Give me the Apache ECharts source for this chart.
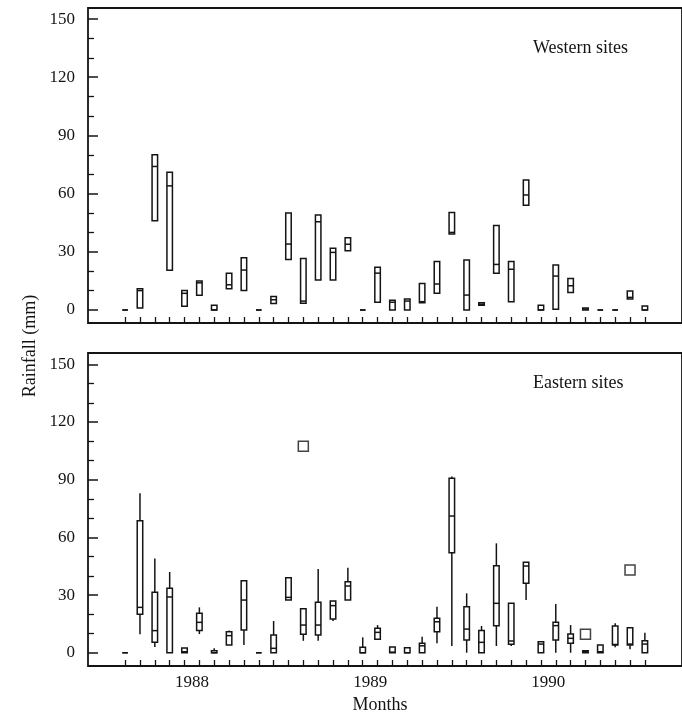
<!DOCTYPE html>
<html>
<head>
<meta charset="utf-8">
<script src="https://cdn.jsdelivr.net/npm/echarts@6/dist/echarts.min.js"></script>
<style>
  html, body { margin: 0; padding: 0; background: #fff; }
  #chart { width: 682px; height: 717px; }
</style>
</head>
<body>
<div id="chart"></div>
<script>
// month index 0..35, boxes are [min, Q1, median, Q3, max] in mm
const westBoxes = [
  [0, 0, 0, 0, 0], [1, 1, 10, 11, 11], [46, 46, 74, 80, 80], [20.5, 20.5, 64, 71, 71],
  [2, 2, 8.6, 10, 10], [7.6, 7.6, 14, 15, 15], [0, 0, 0, 2.5, 2.5], [11, 11, 13, 19, 19],
  [10, 10, 20.6, 27, 27], [0, 0, 0, 0, 0], [3.4, 3.4, 5.3, 7, 7], [26, 26, 34, 50, 50],
  [3.5, 3.5, 4.6, 26.5, 26.5], [15.5, 15.5, 45.5, 49, 49], [15.5, 15.5, 29.7, 31.8, 31.8], [30.6, 30.6, 33.9, 37.3, 37.3],
  [0, 0, 0, 0, 0], [4, 4, 19, 22, 22], [0, 0, 4, 5, 5], [0, 0, 4.6, 5.7, 5.7],
  [3.8, 3.8, 4.3, 13.7, 13.7], [8.6, 8.6, 13.4, 25, 25], [39.2, 39.2, 40, 50.3, 50.3], [0, 0, 7.7, 25.8, 25.8],
  [2.4, 2.4, 3, 3.8, 3.8], [19, 19, 23.5, 43.6, 43.6], [4.3, 4.3, 21, 25, 25], [54, 54, 59.3, 67, 67],
  [0, 0, 0, 2.4, 2.4], [0.4, 0.4, 17.5, 23.2, 23.2], [9, 9, 12.5, 16.3, 16.3], [0, 0, 0.5, 1, 1],
  [0, 0, 0, 0, 0], [0, 0, 0, 0, 0], [5.7, 5.7, 6.5, 9.8, 9.8], [0, 0, 0, 2.1, 2.1]
];

const eastBoxes = [
  [0, 0, 0, 0, 0], [9.6, 20, 23.6, 68.7, 83], [3, 5.4, 11.5, 31.4, 49], [0, 0, 29, 33.5, 42],
  [0, 0, 0.5, 2.5, 2.5], [9.7, 11.5, 15.8, 20.5, 23.6], [0, 0, 0, 1, 2.3], [4, 4, 8.9, 10.9, 11.5],
  [4, 11.8, 27.4, 37.5, 37.8], [0, 0, 0, 0, 0], [0, 0, 2.3, 9.2, 16.5], [27.4, 27.4, 28.8, 39, 39],
  [6.2, 9.6, 14.4, 22.9, 22.9], [6.2, 9.2, 14.4, 26.2, 43.5], [16.5, 17.5, 24.5, 26.9, 26.9], [27.4, 27.4, 34.7, 36.9, 44.2],
  [0, 0, 0, 2.8, 8], [6.6, 7, 10.6, 12.7, 14.4], [0, 0, 0.3, 3, 3], [0, 0, 0, 2.6, 2.6],
  [0, 0, 3.6, 4.9, 8.3], [4.9, 10.9, 16.1, 17.9, 23.9], [3.5, 52, 71.1, 90.7, 91.6], [0, 6.6, 12.3, 23.9, 30.9],
  [0, 0, 5.4, 11.5, 13.9], [3.5, 14.1, 25.7, 45.3, 56.9], [3.5, 4.4, 6.1, 25.7, 25.7], [27.4, 36.1, 45.1, 47, 47],
  [0, 0, 4.5, 5.7, 5.7], [0, 6.6, 14.1, 15.8, 25.3], [0, 4.9, 7.5, 9.7, 14.4], [0, 0, 0.5, 1, 1],
  [0, 0, 0.5, 4, 4], [2.8, 4, 4.3, 13.9, 15.3], [1.8, 4, 4.5, 13, 13], [0, 0, 4.5, 6.2, 10.4]
];

// [month index, mm]
const eastOutliers = [[12, 107.4], [31, 9.6], [34, 43]];

const yearLabels = ['1988', '1989', '1990'];
const yearPos = [4.5, 16.5, 28.5];
const yMajor = [0, 30, 60, 90, 120, 150];
const yMinor = [10, 20, 40, 50, 70, 80, 100, 110, 130, 140];

const ink = '#141414';
const serif = '"Liberation Serif", "DejaVu Serif", serif';
const monthTicks = westBoxes.map((b, i) => i);

function toRows (boxes) {
  return boxes.map((b, i) => [i].concat(b));
}

function renderBox (params, api) {
  let x = api.value(0);
  let lo = api.coord([x, api.value(1)]);
  let q1 = api.coord([x, api.value(2)]);
  let md = api.coord([x, api.value(3)]);
  let q3 = api.coord([x, api.value(4)]);
  let hi = api.coord([x, api.value(5)]);
  let w = 5.5;
  let line = { stroke: ink, lineWidth: 1.5 };
  return {
    type: 'group',
    children: [
      { type: 'line', shape: { x1: hi[0], y1: hi[1], x2: q3[0], y2: q3[1] }, style: line },
      { type: 'line', shape: { x1: q1[0], y1: q1[1], x2: lo[0], y2: lo[1] }, style: line },
      { type: 'rect', shape: { x: q3[0] - w / 2, y: q3[1], width: w, height: q1[1] - q3[1] },
        style: { stroke: ink, lineWidth: 1.5, fill: '#fff' } },
      { type: 'line', shape: { x1: md[0] - w / 2, y1: md[1], x2: md[0] + w / 2, y2: md[1] }, style: line }
    ]
  };
}

function xAxisFor (idx, withLabels) {
  return {
    type: 'value', gridIndex: idx, min: -2.5, max: 37.5, position: 'bottom',
    axisLine: { show: false, onZero: false },
    splitLine: { show: false },
    axisTick: { show: true, inside: true, length: 6, customValues: monthTicks, lineStyle: { color: ink, width: 1.3 } },
    axisLabel: {
      show: withLabels, customValues: yearPos, margin: 8,
      fontFamily: serif, fontSize: 17, color: ink,
      formatter: function (v) {
        let k = yearPos.indexOf(v);
        return k < 0 ? '' : yearLabels[k];
      }
    }
  };
}

function yAxesFor (idx, min, max) {
  return [{
    type: 'value', gridIndex: idx, min: min, max: max, position: 'left',
    axisLine: { show: false, onZero: false },
    splitLine: { show: false },
    axisTick: { show: true, inside: true, length: 10, customValues: yMajor, lineStyle: { color: ink, width: 1.5 } },
    axisLabel: { customValues: yMajor, margin: 13, fontFamily: serif, fontSize: 17, color: ink }
  }, {
    type: 'value', gridIndex: idx, min: min, max: max, position: 'left',
    axisLine: { show: false, onZero: false },
    splitLine: { show: false },
    axisTick: { show: true, inside: true, length: 6, customValues: yMinor, lineStyle: { color: ink, width: 1.3 } },
    axisLabel: { show: false }
  }];
}

const chart = echarts.init(document.getElementById('chart'));

chart.setOption({
  backgroundColor: '#fff',
  animation: false,
  grid: [
    { left: 88, top: 8, width: 606, height: 315, show: true, borderColor: ink, borderWidth: 1.8, backgroundColor: 'transparent' },
    { left: 88, top: 353, width: 606, height: 313, show: true, borderColor: ink, borderWidth: 1.8, backgroundColor: 'transparent' }
  ],
  xAxis: [xAxisFor(0, false), xAxisFor(1, true)],
  yAxis: yAxesFor(0, -6.7, 155.7).concat(yAxesFor(1, -6.9, 155.9)),
  series: [
    {
      type: 'custom', name: 'Western sites', xAxisIndex: 0, yAxisIndex: 0,
      renderItem: renderBox, data: toRows(westBoxes),
      encode: { x: 0, y: [1, 2, 3, 4, 5] }, silent: true
    },
    {
      type: 'custom', name: 'Eastern sites', xAxisIndex: 1, yAxisIndex: 2,
      renderItem: renderBox, data: toRows(eastBoxes),
      encode: { x: 0, y: [1, 2, 3, 4, 5] }, silent: true
    },
    {
      type: 'scatter', xAxisIndex: 1, yAxisIndex: 2,
      symbol: 'rect', symbolSize: 10, data: eastOutliers, silent: true,
      itemStyle: { color: '#fff', borderColor: ink, borderWidth: 1.5 }
    }
  ],
  graphic: [
    { type: 'text', x: 533, y: 48, style: { text: 'Western sites', font: '18px ' + serif, fill: ink, textAlign: 'left', textVerticalAlign: 'middle' } },
    { type: 'text', x: 533, y: 383, style: { text: 'Eastern sites', font: '18px ' + serif, fill: ink, textAlign: 'left', textVerticalAlign: 'middle' } },
    { type: 'text', x: 30, y: 346, rotation: Math.PI / 2, style: { text: 'Rainfall (mm)', font: '18px ' + serif, fill: ink, textAlign: 'center', textVerticalAlign: 'middle' } },
    { type: 'text', x: 380, y: 705, style: { text: 'Months', font: '18px ' + serif, fill: ink, textAlign: 'center', textVerticalAlign: 'middle' } }
  ]
});
</script>
</body>
</html>
